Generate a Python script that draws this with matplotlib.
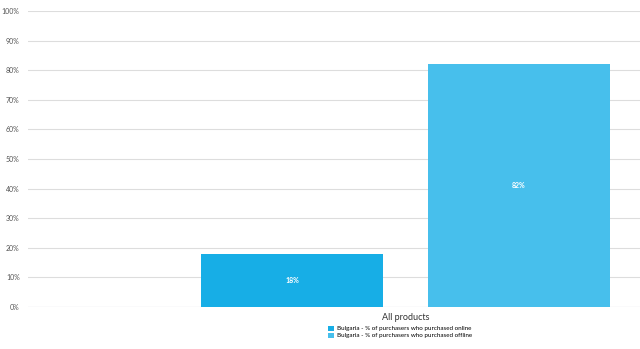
import matplotlib
matplotlib.use("Agg")
import matplotlib.pyplot as plt
from matplotlib.patches import Patch

# Datos
category = "All products"
series_names = [
    "Bulgaria - % of purchasers who purchased online",
    "Bulgaria - % of purchasers who purchased offline",
]
values = [18, 82]
colors = ["#17aee6", "#47bfec"]
yticks = list(range(0, 101, 10))

plt.rcParams['font.family'] = ['Lato', 'DejaVu Sans']

fig = plt.figure(figsize=(6.4, 3.49), dpi=100)
ax = fig.add_axes([28 / 640, 42 / 349, 612 / 640, 296 / 349])

x = [0, 1]
bars = ax.bar(x, values, width=0.8, color=colors, zorder=2)
for b, v in zip(bars, values):
    ax.text(b.get_x() + b.get_width() / 2, v / 2, f"{v}%", ha="center", va="center",
            color="white", fontsize=5, fontweight="bold", zorder=3)

ax.set_xlim(-1.163, 1.533)
ax.set_ylim(0, 100)
ax.set_yticks(yticks)
ax.set_yticklabels([f"{t}%" for t in yticks], fontsize=5, color="#555555")
ax.tick_params(axis="y", length=0, pad=6)
ax.set_xticks([0.5])
ax.set_xticklabels([category], fontsize=6.5, color="#333333")
ax.tick_params(axis="x", length=0, pad=4)
ax.grid(axis="y", color="#dddddd", linewidth=0.8, zorder=0)
for s in ax.spines.values():
    s.set_visible(False)
ax.axhline(0, color="#d0d8e0", linewidth=0.8, zorder=1)

handles = [Patch(facecolor=c, label=n) for c, n in zip(colors, series_names)]
fig.legend(handles=handles, loc="upper center", bbox_to_anchor=(400 / 640, 26 / 349),
           frameon=False, fontsize=4.5, handlelength=1.0, handleheight=0.9,
           handletextpad=0.4, labelspacing=0.2, borderaxespad=0)

fig.savefig("out.png", dpi=100)
